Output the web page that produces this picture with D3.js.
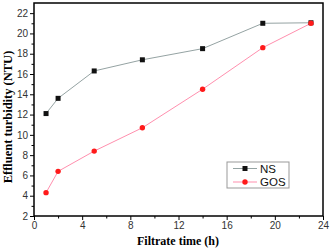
<!DOCTYPE html>
<html><head><meta charset="utf-8">
<script src="https://cdn.jsdelivr.net/npm/d3@7"></script>
<style>body{margin:0;background:#fff}svg{display:block}</style>
</head><body><svg id="c" width="331" height="251"></svg>
<script>
const timeNS = [1, 2, 5, 9, 14, 19, 23];
const valNS = [12.1, 13.6, 16.3, 17.4, 18.5, 21.0, 21.05];
const timeGOS = [1, 2, 5, 9, 14, 19, 23];
const valGOS = [4.3, 6.4, 8.4, 10.7, 14.5, 18.6, 21.0];
const xTicks = [0, 4, 8, 12, 16, 20, 24];
const yTicks = [2, 4, 6, 8, 10, 12, 14, 16, 18, 20, 22];
const seriesNames = ["NS", "GOS"];

const svg = d3.select("#c");
const L = 34, R = 323, T = 3, B = 216;
const x = d3.scaleLinear().domain([0, 24]).range([L, R]);
const y = d3.scaleLinear().domain([2, 23]).range([B, T]);

const xMinor = d3.range(0, 25, 2).filter(v => v % 4 !== 0);
const yMinor = d3.range(3, 23, 1).filter(v => v % 2 !== 0);
const xa = svg.append("g").attr("transform", `translate(0,${B})`)
  .call(d3.axisBottom(x).tickValues(xTicks).tickSize(4).tickPadding(2).tickFormat(d3.format("d")));
xa.select(".domain").remove();
xa.selectAll("text").attr("font-family", "Arial, Liberation Sans, sans-serif").attr("font-size", 10).attr("fill", "#333");
svg.append("g").attr("transform", `translate(0,${B})`)
  .call(d3.axisBottom(x).tickValues(xMinor).tickSize(2.5).tickFormat(""))
  .select(".domain").remove();
const ya = svg.append("g").attr("transform", `translate(${L},0)`)
  .call(d3.axisLeft(y).tickValues(yTicks).tickSize(4).tickPadding(2).tickFormat(d3.format("d")));
ya.select(".domain").remove();
ya.selectAll("text").attr("font-family", "Arial, Liberation Sans, sans-serif").attr("font-size", 10).attr("fill", "#333");
svg.append("g").attr("transform", `translate(${L},0)`)
  .call(d3.axisLeft(y).tickValues(yMinor).tickSize(2.5).tickFormat(""))
  .select(".domain").remove();

svg.append("rect").attr("x", L).attr("y", T).attr("width", R - L).attr("height", B - T)
  .attr("fill", "none").attr("stroke", "#000").attr("stroke-width", 1.5);

const line = d3.line().x(d => x(d[0])).y(d => y(d[1]));
const ns = timeNS.map((t, i) => [t, valNS[i]]);
const gos = timeGOS.map((t, i) => [t, valGOS[i]]);
svg.append("path").datum(ns).attr("d", line).attr("fill", "none").attr("stroke", "#95a3a3").attr("stroke-width", 1);
svg.append("path").datum(gos).attr("d", line).attr("fill", "none").attr("stroke", "#ff8fae").attr("stroke-width", 1);
svg.selectAll(".sq").data(ns).enter().append("rect")
  .attr("x", d => x(d[0]) - 2.5).attr("y", d => y(d[1]) - 2.5).attr("width", 5).attr("height", 5).attr("fill", "#111");
svg.selectAll(".ci").data(gos).enter().append("circle")
  .attr("cx", d => x(d[0])).attr("cy", d => y(d[1])).attr("r", 2.7).attr("fill", "#ff1a1a");

const lg = svg.append("g");
lg.append("rect").attr("x", 227).attr("y", 162).attr("width", 62).attr("height", 26)
  .attr("fill", "#fff").attr("stroke", "#999").attr("stroke-width", 1);
const ly = [168.5, 182];
lg.append("line").attr("x1", 233).attr("x2", 257).attr("y1", ly[0]).attr("y2", ly[0]).attr("stroke", "#95a3a3");
lg.append("rect").attr("x", 242.5).attr("y", ly[0] - 2.5).attr("width", 5).attr("height", 5).attr("fill", "#111");
lg.append("line").attr("x1", 233).attr("x2", 257).attr("y1", ly[1]).attr("y2", ly[1]).attr("stroke", "#ff8fae");
lg.append("circle").attr("cx", 245).attr("cy", ly[1]).attr("r", 2.7).attr("fill", "#ff1a1a");
seriesNames.forEach((n, i) => {
  lg.append("text").attr("x", 260).attr("y", ly[i] + 4).text(n)
    .attr("font-family", "Arial, Liberation Sans, sans-serif").attr("font-size", 11.5).attr("fill", "#111");
});

svg.append("text").attr("x", 178).attr("y", 245).attr("text-anchor", "middle")
  .attr("font-family", "Times New Roman, Liberation Serif, serif").attr("font-weight", "bold").attr("font-size", 12)
  .text("Filtrate time (h)");
svg.append("text").attr("transform", `translate(12,117) rotate(-90)`).attr("text-anchor", "middle")
  .attr("font-family", "Times New Roman, Liberation Serif, serif").attr("font-weight", "bold").attr("font-size", 12.5)
  .text("Effluent turbidity (NTU)");
</script></body></html>
